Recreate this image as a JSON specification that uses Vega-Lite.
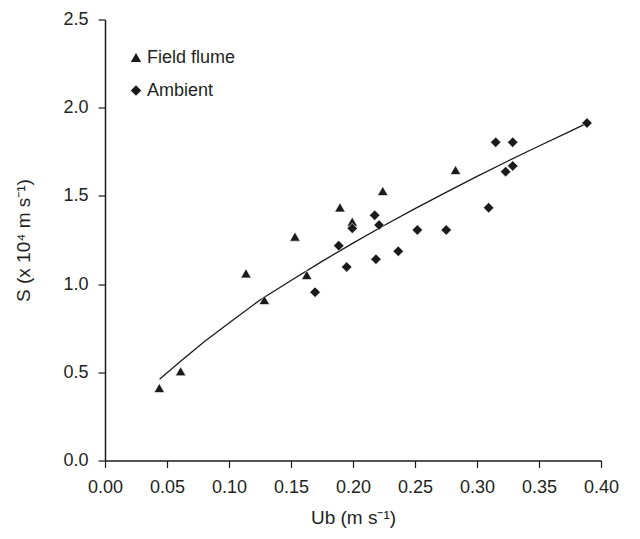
{
  "$schema": "https://vega.github.io/schema/vega-lite/v6.json",
  "autosize": {"type": "none"},
  "width": 496,
  "height": 441,
  "padding": {"left": 105, "top": 19.5, "right": 39, "bottom": 78.5},
  "background": "white",
  "config": {
    "view": {"stroke": null},
    "font": "Liberation Sans",
    "axis": {
      "grid": false,
      "labelFlush": false,
      "labelOverlap": false,
      "domainColor": "#1a1a1a",
      "domainWidth": 1.5,
      "tickColor": "#1a1a1a",
      "tickWidth": 1.2,
      "tickSize": 7,
      "labelFont": "Liberation Sans",
      "labelFontSize": 18,
      "labelColor": "#231f20",
      "titleFont": "Liberation Sans",
      "titleFontSize": 19,
      "titleFontWeight": "normal",
      "titleColor": "#231f20"
    }
  },
  "datasets": {
    "points": [
      {"series": "Field flume", "u": 0.0438, "s": 0.411},
      {"series": "Field flume", "u": 0.0610, "s": 0.506},
      {"series": "Field flume", "u": 0.1137, "s": 1.061},
      {"series": "Field flume", "u": 0.1285, "s": 0.910},
      {"series": "Field flume", "u": 0.1532, "s": 1.269},
      {"series": "Field flume", "u": 0.1627, "s": 1.052},
      {"series": "Field flume", "u": 0.1895, "s": 1.435},
      {"series": "Field flume", "u": 0.1994, "s": 1.354},
      {"series": "Field flume", "u": 0.2240, "s": 1.528},
      {"series": "Field flume", "u": 0.2827, "s": 1.647},
      {"series": "Ambient", "u": 0.1694, "s": 0.954},
      {"series": "Ambient", "u": 0.1885, "s": 1.218},
      {"series": "Ambient", "u": 0.1949, "s": 1.097},
      {"series": "Ambient", "u": 0.1994, "s": 1.316},
      {"series": "Ambient", "u": 0.2175, "s": 1.390},
      {"series": "Ambient", "u": 0.2210, "s": 1.335},
      {"series": "Ambient", "u": 0.2185, "s": 1.141},
      {"series": "Ambient", "u": 0.2365, "s": 1.186},
      {"series": "Ambient", "u": 0.2519, "s": 1.307},
      {"series": "Ambient", "u": 0.2752, "s": 1.307},
      {"series": "Ambient", "u": 0.3094, "s": 1.433},
      {"series": "Ambient", "u": 0.3151, "s": 1.804},
      {"series": "Ambient", "u": 0.3231, "s": 1.637},
      {"series": "Ambient", "u": 0.3288, "s": 1.670},
      {"series": "Ambient", "u": 0.3288, "s": 1.804},
      {"series": "Ambient", "u": 0.3887, "s": 1.913}
    ],
    "curve": [
      {"u": 0.044, "s": 0.46},
      {"u": 0.06, "s": 0.557},
      {"u": 0.08, "s": 0.673},
      {"u": 0.10, "s": 0.78},
      {"u": 0.125, "s": 0.91},
      {"u": 0.15, "s": 1.02},
      {"u": 0.175, "s": 1.129},
      {"u": 0.20, "s": 1.232},
      {"u": 0.225, "s": 1.332},
      {"u": 0.25, "s": 1.428},
      {"u": 0.275, "s": 1.52},
      {"u": 0.30, "s": 1.611},
      {"u": 0.325, "s": 1.698},
      {"u": 0.35, "s": 1.783},
      {"u": 0.375, "s": 1.866},
      {"u": 0.3887, "s": 1.913}
    ]
  },
  "layer": [
    {
      "data": {"name": "curve"},
      "mark": {"type": "line", "color": "#1a1a1a", "strokeWidth": 1.3},
      "encoding": {
        "x": {"field": "u", "type": "quantitative"},
        "y": {"field": "s", "type": "quantitative"}
      }
    },
    {
      "data": {"name": "points"},
      "mark": {"type": "point", "filled": true, "opacity": 1, "size": 110, "color": "#1a1a1a", "stroke": "white", "strokeWidth": 0.6},
      "encoding": {
        "x": {
          "field": "u", "type": "quantitative",
          "scale": {"domain": [0, 0.4], "nice": false, "zero": false},
          "axis": {"values": [0, 0.05, 0.1, 0.15, 0.2, 0.25, 0.3, 0.35, 0.4], "format": ".2f", "title": "Ub (m s⁻¹)", "labelPadding": 11, "titlePadding": 12}
        },
        "y": {
          "field": "s", "type": "quantitative",
          "scale": {"domain": [0, 2.5], "nice": false},
          "axis": {"values": [0, 0.5, 1, 1.5, 2, 2.5], "format": ".1f", "title": "S (x 10⁴ m s⁻¹)", "labelPadding": 10, "titlePadding": 29}
        },
        "shape": {
          "field": "series", "type": "nominal",
          "scale": {"domain": ["Field flume", "Ambient"], "range": ["triangle-up", "diamond"]},
          "legend": {
            "title": null,
            "orient": "none",
            "legendX": 22,
            "legendY": 29,
            "symbolSize": 110,
            "symbolFillColor": "#1a1a1a",
            "symbolStrokeColor": "#1a1a1a",
            "symbolStrokeWidth": 0,
            "labelFontSize": 18,
            "labelColor": "#231f20",
            "labelOffset": 2,
            "rowPadding": 15
          }
        }
      }
    }
  ]
}
